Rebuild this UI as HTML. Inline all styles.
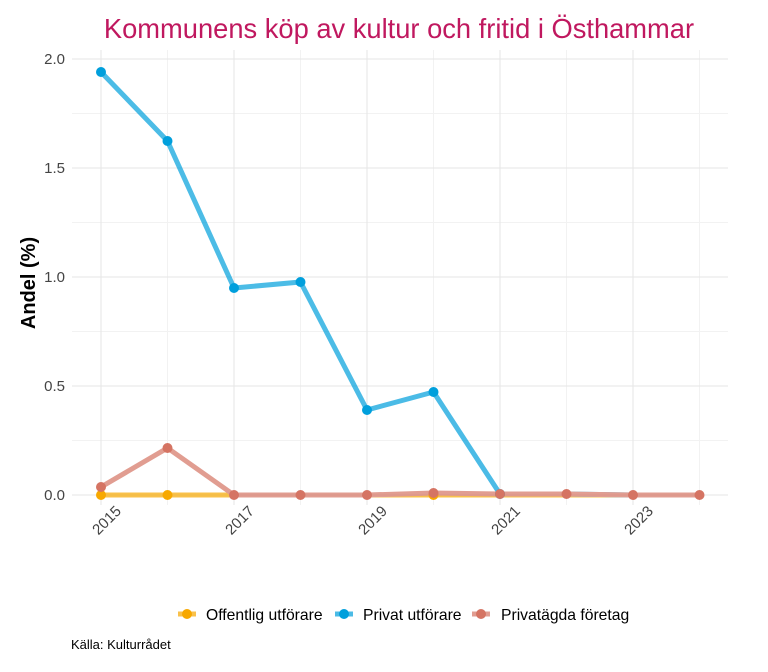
<!DOCTYPE html><html><head><style>body{margin:0;background:#fff}svg{display:block}text{font-family:"Liberation Sans",sans-serif}</style></head><body>
<svg width="768" height="672" xmlns="http://www.w3.org/2000/svg">
<rect width="768" height="672" fill="#fff"/>
<text x="399" y="38" text-anchor="middle" font-size="27.3" fill="#c0185f">Kommunens köp av kultur och fritid i Östhammar</text>
<g stroke="#f2f2f2" stroke-width="1">
<line x1="72" x2="728" y1="440.5" y2="440.5"/><line x1="72" x2="728" y1="331.5" y2="331.5"/><line x1="72" x2="728" y1="222.5" y2="222.5"/><line x1="72" x2="728" y1="113.5" y2="113.5"/>
<line x1="167.5" x2="167.5" y1="50" y2="505"/><line x1="300.5" x2="300.5" y1="50" y2="505"/><line x1="433.5" x2="433.5" y1="50" y2="505"/><line x1="566.5" x2="566.5" y1="50" y2="505"/><line x1="699.5" x2="699.5" y1="50" y2="505"/>
</g>
<g stroke="#e6e6e6" stroke-width="1.1">
<line x1="72" x2="728" y1="495" y2="495"/><line x1="72" x2="728" y1="386" y2="386"/><line x1="72" x2="728" y1="277" y2="277"/><line x1="72" x2="728" y1="168" y2="168"/><line x1="72" x2="728" y1="59" y2="59"/>
<line x1="101" x2="101" y1="50" y2="505"/><line x1="234" x2="234" y1="50" y2="505"/><line x1="367" x2="367" y1="50" y2="505"/><line x1="500" x2="500" y1="50" y2="505"/><line x1="633" x2="633" y1="50" y2="505"/>
</g>
<g font-size="15" fill="#444" text-anchor="end">
<text x="65" y="500">0.0</text><text x="65" y="391">0.5</text><text x="65" y="282">1.0</text><text x="65" y="173">1.5</text><text x="65" y="64">2.0</text>
</g>
<g font-size="15" fill="#444" text-anchor="end">
<text transform="translate(122,512) rotate(-45)">2015</text><text transform="translate(255,512) rotate(-45)">2017</text><text transform="translate(388,512) rotate(-45)">2019</text><text transform="translate(521,512) rotate(-45)">2021</text><text transform="translate(654,512) rotate(-45)">2023</text>
</g>
<text transform="translate(35,283) rotate(-90)" text-anchor="middle" font-size="20" font-weight="bold">Andel (%)</text>
<g stroke-width="5" fill="none" stroke-linejoin="round" opacity="0.7">
<polyline stroke="#f7a800" points="101,495 167.5,495 234,495 300.5,495 367,495 433.5,495 500,495 566.5,495 633,495 699.5,495"/>
<polyline stroke="#009fdc" points="101,72 167.5,141 234,288 300.5,282 367,410 433.5,392 500,494 566.5,494 633,495 699.5,495"/>
<polyline stroke="#d57463" points="101,487 167.5,448 234,495 300.5,495 367,495 433.5,493 500,494 566.5,494 633,495 699.5,495"/>
</g>
<g fill="#f7a800"><circle cx="101" cy="495" r="5"/><circle cx="167.5" cy="495" r="5"/><circle cx="433.5" cy="495" r="5"/></g>
<g fill="#009fdc"><circle cx="101" cy="72" r="5"/><circle cx="167.5" cy="141" r="5"/><circle cx="234" cy="288" r="5"/><circle cx="300.5" cy="282" r="5"/><circle cx="367" cy="410" r="5"/><circle cx="433.5" cy="392" r="5"/><circle cx="500" cy="494" r="5"/></g>
<g fill="#d57463"><circle cx="101" cy="487" r="5"/><circle cx="167.5" cy="448" r="5"/><circle cx="234" cy="495" r="5"/><circle cx="300.5" cy="495" r="5"/><circle cx="367" cy="495" r="5"/><circle cx="433.5" cy="493" r="5"/><circle cx="500" cy="494" r="5"/><circle cx="566.5" cy="494" r="5"/><circle cx="633" cy="495" r="5"/><circle cx="699.5" cy="495" r="5"/></g>
<g font-size="15.7" fill="#000">
<line x1="178" x2="196" y1="614" y2="614" stroke="#f7a800" stroke-width="5" opacity="0.7"/><circle cx="187" cy="614" r="5" fill="#f7a800"/><text x="206" y="620">Offentlig utförare</text>
<line x1="335" x2="353" y1="614" y2="614" stroke="#009fdc" stroke-width="5" opacity="0.7"/><circle cx="344" cy="614" r="5" fill="#009fdc"/><text x="363" y="620">Privat utförare</text>
<line x1="472" x2="490" y1="614" y2="614" stroke="#d57463" stroke-width="5" opacity="0.7"/><circle cx="481" cy="614" r="5" fill="#d57463"/><text x="501" y="620">Privatägda företag</text>
</g>
<text x="71" y="649" font-size="13">Källa: Kulturrådet</text>
</svg></body></html>
